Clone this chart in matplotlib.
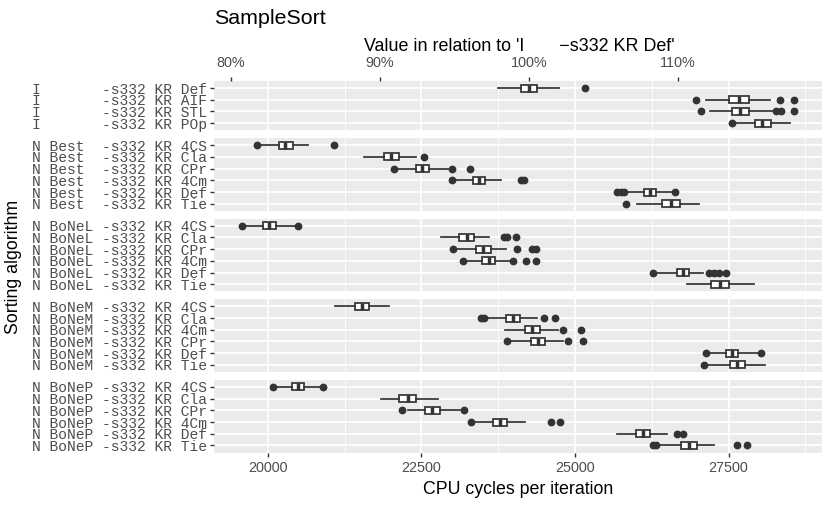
import matplotlib.pyplot as plt
import numpy as np

plt.rcParams["font.family"] = ["Liberation Sans", "DejaVu Sans"]

# row groups (facets) and the variants inside each one, top to bottom
groups = ["I", "N Best", "N BoNeL", "N BoNeM", "N BoNeP"]
i_variants = ["Def", "AIF", "STL", "POp"]
best_variants = ["4CS", "Cla", "CPr", "4Cm", "Def", "Tie"]
bonel_variants = ["4CS", "Cla", "CPr", "4Cm", "Def", "Tie"]
bonem_variants = ["4CS", "Cla", "4Cm", "CPr", "Def", "Tie"]
bonep_variants = ["4CS", "Cla", "CPr", "4Cm", "Def", "Tie"]

# whisker low, q1, median, q3, whisker high (CPU cycles per iteration)
i_box = [[23750, 24114, 24255, 24375, 24745],
         [27136, 27511, 27669, 27826, 28180],
         [27190, 27554, 27690, 27826, 28234],
         [27609, 27935, 28043, 28190, 28506]]
i_out = [[25163], [26973, 28332, 28571], [27055, 28277, 28359, 28571], [27554]]

best_box = [[19869, 20183, 20281, 20412, 20654],
            [21569, 21895, 22013, 22144, 22418],
            [22105, 22405, 22516, 22627, 22941],
            [23039, 23333, 23431, 23542, 23791],
            [25830, 26131, 26229, 26327, 26601],
            [26013, 26418, 26569, 26712, 27026]]
best_out = [[19817, 21078], [22549], [22059, 22993, 23288], [22993, 24118, 24170],
            [25686, 25752, 25800, 26634], [25837]]

bonel_box = [[19608, 19915, 20020, 20131, 20458],
             [22824, 23118, 23235, 23353, 23608],
             [23059, 23386, 23510, 23641, 23876],
             [23216, 23484, 23595, 23706, 23954],
             [26327, 26654, 26765, 26863, 27092],
             [26830, 27222, 27366, 27503, 27908]]
bonel_out = [[19575, 20490], [23843, 23889, 24039], [23020, 24052, 24301, 24366],
             [23183, 23993, 24203, 24366], [26275, 27177, 27255, 27340, 27451], []]

bonem_box = [[21098, 21425, 21536, 21647, 21974],
             [23562, 23876, 23987, 24105, 24379],
             [23869, 24183, 24301, 24431, 24725],
             [23935, 24281, 24399, 24510, 24804],
             [27176, 27451, 27562, 27660, 27974],
             [27157, 27516, 27634, 27765, 28091]]
bonem_out = [[], [23464, 23516, 24490, 24673], [24804, 25098], [23889, 24889, 25131],
             [27137, 28026], [27105]]

bonep_box = [[20118, 20392, 20490, 20588, 20850],
             [21843, 22144, 22275, 22405, 22778],
             [22275, 22562, 22680, 22797, 23137],
             [23359, 23673, 23778, 23889, 24183],
             [25686, 26000, 26111, 26229, 26490],
             [26359, 26732, 26863, 26993, 27255]]
bonep_out = [[20078, 20895], [], [22190, 23190], [23314, 24608, 24758],
             [26667, 26765], [26275, 26320, 27634, 27797]]

x_major = [20000, 22500, 25000, 27500]
pct_ticks = [80, 90, 100, 110]

panels = [
    (groups[0], i_variants, i_box, i_out),
    (groups[1], best_variants, best_box, best_out),
    (groups[2], bonel_variants, bonel_box, bonel_out),
    (groups[3], bonem_variants, bonem_box, bonem_out),
    (groups[4], bonep_variants, bonep_box, bonep_out),
]

ref_label = f"{groups[0]:<8}-s332 KR {i_variants[0]}"
ref = i_box[0][2]

allvals = [v for _, _, b, o in panels for row in b for v in row] + \
          [v for _, _, b, o in panels for row in o for v in row]
lo, hi = min(allvals), max(allvals)
pad = (hi - lo) * 0.05
xlim = (lo - pad, hi + pad)

dark = "#333333"
grey30 = "#4D4D4D"
W, H = 830, 507

fig = plt.figure(figsize=(8.3, 5.07), dpi=100)
gs = fig.add_gridspec(len(panels), 1,
                      height_ratios=[len(p[1]) - 1 + 1.2 for p in panels],
                      left=214 / W, right=822 / W, top=1 - 81 / H, bottom=1 - 452.5 / H,
                      hspace=0.118)

axes = []
for k, (grp, variants, box, out) in enumerate(panels):
    ax = fig.add_subplot(gs[k], sharex=axes[0] if axes else None)
    axes.append(ax)
    n = len(variants)
    ax.set_facecolor("#EBEBEB")
    for s in ax.spines.values():
        s.set_visible(False)
    stats = [dict(whislo=b[0], q1=b[1], med=b[2], q3=b[3], whishi=b[4], fliers=o)
             for b, o in zip(box, out)]
    ax.bxp(stats, positions=range(n), widths=0.6, orientation="horizontal",
           showcaps=False, patch_artist=True, manage_ticks=False,
           boxprops=dict(facecolor="white", edgecolor=dark, linewidth=1.25),
           medianprops=dict(color=dark, linewidth=2.5, solid_capstyle="butt"),
           whiskerprops=dict(color=dark, linewidth=1.25),
           flierprops=dict(marker="o", markerfacecolor=dark, markeredgecolor=dark,
                           markersize=4.6))
    labels = [f"{grp:<8}-s332 KR {v}" for v in variants]
    ax.set_yticks(range(n))
    ax.set_yticklabels(labels, family="Liberation Mono", fontsize=10.5, color=grey30)
    ax.set_ylim(n - 1 + 0.6, -0.6)
    ax.set_xlim(*xlim)
    ax.set_xticks(x_major)
    ax.set_xticks([x + 1250 for x in x_major], minor=True)
    ax.grid(which="major", color="white", linewidth=1.25)
    ax.grid(which="minor", axis="x", color="white", linewidth=0.6)
    ax.set_axisbelow(True)
    ax.tick_params(axis="y", length=3.2, width=1.0, color=dark, pad=1.5)
    ax.tick_params(axis="x", which="minor", length=0)
    ax.tick_params(axis="x", which="major", length=3.2, width=1.0, color=dark,
                   labelsize=10.4, labelcolor=grey30, pad=2.6)
    if k < len(panels) - 1:
        ax.tick_params(axis="x", which="major", bottom=False, labelbottom=False)

sec = axes[0].secondary_xaxis("top", functions=(lambda x: x / ref * 100,
                                                lambda p: p * ref / 100))
sec.set_xticks(pct_ticks)
sec.set_xticklabels([f"{p}%" for p in pct_ticks])
sec.spines["top"].set_visible(False)
sec.tick_params(length=3.2, width=1.0, color=dark, labelsize=10.4,
                labelcolor=grey30, pad=4.5)

cx = (214 + 822) / 2 / W
fig.text(214 / W, 1 - 23.5 / H, "SampleSort", fontsize=15.4, ha="left", va="baseline")
fig.text(cx + 1 / W, 1 - 51 / H, "Value in relation to '" + ref_label.replace("-", "\u2212") + "'",
         fontsize=12.9, ha="center", va="baseline")
fig.text(cx, 1 - 494 / H, "CPU cycles per iteration", fontsize=12.8,
         ha="center", va="baseline")
fig.text(13 / W, 1 - 266.75 / H, "Sorting algorithm", fontsize=12.8, rotation=90,
         ha="center", va="center")

fig.savefig("out.png", dpi=100)
